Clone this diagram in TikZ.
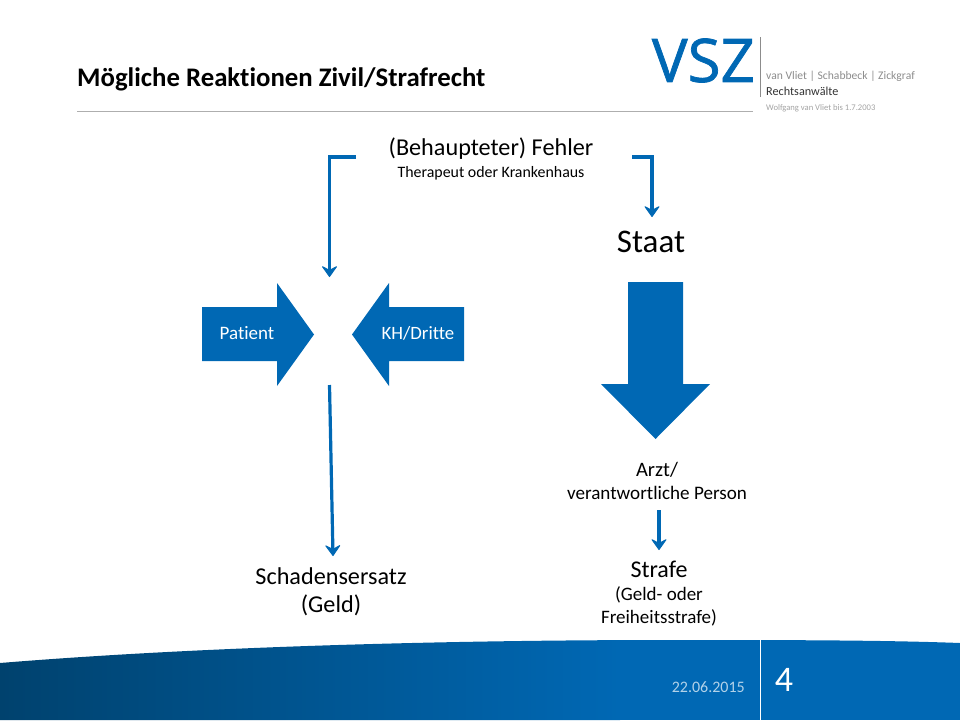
\documentclass[tikz,border=0pt]{standalone}
\usepackage{fontspec}
\setmainfont[Ligatures=NoCommon]{Carlito}
\newfontfamily\logofont[FakeBold=1.2]{Open Sans}
\usetikzlibrary{arrows.meta}
\definecolor{vszblue}{HTML}{0068B4}
\definecolor{vszdark}{HTML}{00426E}
\definecolor{vszgray}{HTML}{8C8C8C}
\newcommand{\fs}[1]{\fontsize{#1}{#1}\selectfont}
\tikzset{
  txt/.style={inner sep=0pt, align=center, text=black},
  arr/.style={draw=vszblue, line width=3.2pt, -{Stealth[length=12pt,width=17pt,inset=4.5pt,line width=1pt,round]}},
  blockarrow/.style={fill=vszblue, draw=none},
}
\begin{document}
\begin{tikzpicture}[x=1pt,y=-1pt]
  \useasboundingbox (0,0) rectangle (960,720);

  % footer
  \begin{scope}
    \clip (0,663) .. controls (220,645) and (480,640) .. (670,640) .. controls (780,640) and (880,640) .. (960,643) -- (960,720) -- (0,720) -- cycle;
    \shade[left color=vszdark, right color=vszblue] (0,630) rectangle (620,720);
    \fill[vszblue] (619.5,630) rectangle (960,720);
  \end{scope}
  \draw[white, line width=.8pt] (760.5,640) -- (760.5,720);
  \node[txt, text=white!70!vszblue, anchor=east] (date) at (745,687) {\fs{16}22.06.2015};
  \node[txt, text=white] (page) at (784,680) {\fs{36}4};

  % head
  \node[txt, anchor=west] (title) at (77,79.5) {\fs{26.8}\textbf{Mögliche Reaktionen Zivil/Strafrecht}};
  \draw[vszgray!70, line width=.8pt] (77,111) -- (753,111);
  \node[txt, text=vszblue, anchor=east] (logo) at (755,60.5) {\logofont\fs{60}VSZ};
  \draw[vszgray, line width=.8pt] (760.5,37) -- (760.5,97);
  \node[txt, text=vszgray, anchor=west] (names) at (766,76.5) {\fs{11.6}van Vliet | Schabbeck | Zickgraf};
  \node[txt, text=black!80, anchor=west] (firm) at (766,91.5) {\fs{12.2}Rechtsanwälte};
  \node[txt, text=vszgray!80, anchor=west] (founder) at (766,108) {\fs{8.6}Wolfgang van Vliet bis 1.7.2003};

  % texts
  \node[txt] (fehler) at (491,149) {\fs{24.2}(Behaupteter) Fehler};
  \node[txt] (therapeut) at (491,173) {\fs{15.9}Therapeut oder Krankenhaus};
  \node[txt] (staat) at (651,242) {\fs{33}Staat};
  \node[txt] (arzt) at (657,470) {\fs{20.5}Arzt/};
  \node[txt] (person) at (657,493) {\fs{19.1}verantwortliche Person};
  \node[txt] (strafe) at (659,569) {\fs{24}Strafe};
  \node[txt] (geldoder) at (659,594.5) {\fs{19}(Geld- oder};
  \node[txt] (freiheit) at (659,617.5) {\fs{19}Freiheitsstrafe)};
  \node[txt] (schaden) at (331,576.5) {\fs{24.2}Schadensersatz};
  \node[txt] (geld) at (331,605) {\fs{24.2}(Geld)};

  % block arrows
  \fill[blockarrow] (202,307) -- (277,307) -- (277,283) -- (314,334.5) -- (277,386) -- (277,361) -- (202,361) -- cycle;
  \fill[blockarrow] (464,307) -- (389,307) -- (389,283) -- (352,334.5) -- (389,386) -- (389,361) -- (464,361) -- cycle;
  \fill[blockarrow] (628,282) -- (683,282) -- (683,384) -- (710,384) -- (655.5,439) -- (601,384) -- (628,384) -- cycle;
  \node[txt, text=white] (patient) at (247,333.5) {\fs{19}Patient};
  \node[txt, text=white] (dritte) at (418,333.5) {\fs{18.8}KH/Dritte};

  % connectors
  \coordinate (a1) at (356,157);
  \coordinate (a2) at (329.5,277);
  \coordinate (b1) at (632,157);
  \coordinate (b2) at (652,217);
  \coordinate (c1) at (329.5,385);
  \coordinate (c2) at (333,556);
  \coordinate (d1) at (659,510);
  \coordinate (d2) at (659,550);
  \draw[arr] (a1) -| (a2);
  \draw[arr] (b1) -| (b2);
  \draw[arr] (c1) -- (c2);
  \draw[arr] (d1) -- (d2);
\end{tikzpicture}
\end{document}
